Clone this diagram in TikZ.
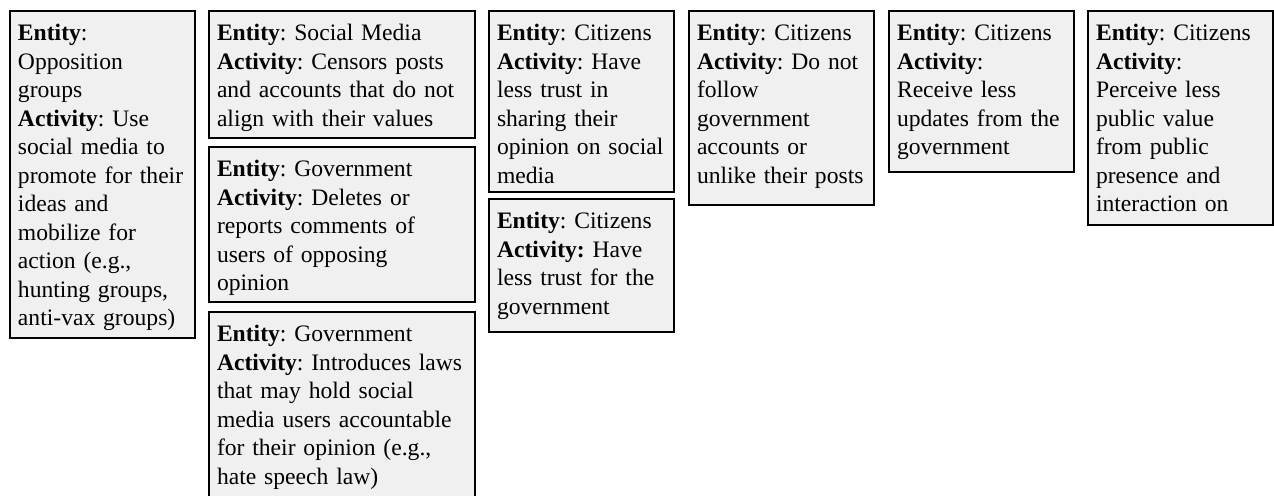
\documentclass[tikz,border=0pt]{standalone}
\usepackage{fontspec}
\setmainfont{Liberation Serif}
\definecolor{boxfill}{RGB}{240,240,240}
\frenchspacing
\hyphenpenalty=10000
\exhyphenpenalty=10000

\begin{document}
\begin{tikzpicture}[x=0.5pt,y=-0.5pt]

      \useasboundingbox (0,0) rectangle (1274,496);

      \begin{scope}[every node/.style={draw,fill=boxfill,line width=0.9pt,anchor=north west,
          align=left,inner xsep=4pt,inner ysep=4pt,outer sep=0pt,text height=11pt,
          font=\fontsize{11.8}{14.25}\selectfont\frenchspacing},
          narrow/.style={text width=84.5pt},
          wide/.style={text width=125pt}]

        % first column
        \node[narrow,text depth=144.5pt] (opposition) at (10,11)
          {\textbf{Entity}:\\ Opposition\\ groups\\ \textbf{Activity}: Use\\ social media to\\
           promote for their\\ ideas and\\ mobilize for\\ action (e.g.,\\ hunting groups,\\ anti-vax groups)};

        % second column
        \node[wide,text depth=44.5pt] (socialmedia) at (209,11)
          {\textbf{Entity}: Social Media\\ \textbf{Activity}: Censors posts\\ and accounts that do not\\ align with their values};
        \node[wide,text depth=58.5pt] (govdelete) at (209,147)
          {\textbf{Entity}: Government\\ \textbf{Activity}: Deletes or\\ reports comments of\\ users of opposing\\ opinion};
        \node[wide,text depth=81pt] (govlaws) at (209,312)
          {\textbf{Entity}: Government\\ \textbf{Activity}: Introduces laws\\ that may hold social\\
           media users accountable\\ for their opinion (e.g.,\\ hate speech law)};

        % third column
        \node[narrow,text depth=71.5pt] (sharing) at (489,11)
          {\textbf{Entity}: Citizens\\ \textbf{Activity}: Have\\ less trust in\\ sharing their\\ opinion on social\\ media};
        \node[narrow,text depth=47.5pt] (trust) at (489,199)
          {\textbf{Entity}: Citizens\\ \textbf{Activity:} Have\\ less trust for the\\ government};

        % remaining columns
        \node[narrow,text depth=78pt] (unfollow) at (689,11)
          {\textbf{Entity}: Citizens\\ \textbf{Activity}: Do not\\ follow\\ government\\ accounts or\\ unlike their posts};
        \node[narrow,text depth=61.5pt] (updates) at (889,11)
          {\textbf{Entity}: Citizens\\ \textbf{Activity}:\\ Receive less\\ updates from the\\ government};
        \node[narrow,text depth=88pt] (value) at (1088,11)
          {\textbf{Entity}: Citizens\\ \textbf{Activity}:\\ Perceive less\\ public value\\ from public\\ presence and\\ interaction on};

      \end{scope}

    \end{tikzpicture}
\end{document}
